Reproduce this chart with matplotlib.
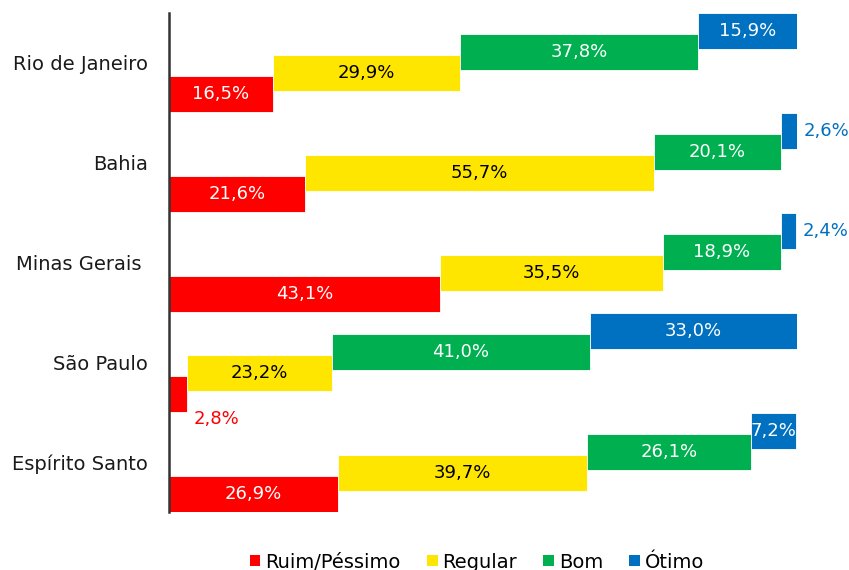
import matplotlib
matplotlib.use("Agg")
import matplotlib.pyplot as plt
from matplotlib.patches import Patch

# data
states = ["Rio de Janeiro", "Bahia", "Minas Gerais ", "São Paulo", "Espírito Santo"]
ruim = [16.5, 21.6, 43.1, 2.8, 26.9]
regular = [29.9, 55.7, 35.5, 23.2, 39.7]
bom = [37.8, 20.1, 18.9, 41.0, 26.1]
otimo = [15.9, 2.6, 2.4, 33.0, 7.2]
series_names = ["Ruim/Péssimo", "Regular", "Bom", "Ótimo"]
colors = ["#FF0000", "#FFE600", "#00B050", "#0070C0"]
text_colors = ["white", "black", "white", "white"]

plt.rcParams['font.family'] = ['DejaVu Sans']
fig = plt.figure(figsize=(8.49, 5.70), dpi=100)
ax = fig.add_axes([169/849, (570-512)/570, (797-169)/849, (512-13)/570])

offsets = [0.315, 0.105, -0.105, -0.315]
h = 0.36
all_series = [ruim, regular, bom, otimo]

for i, st in enumerate(states):
    left = 0
    for j, vals in enumerate(all_series):
        v = vals[i]
        y = i + offsets[j]
        ax.barh(y, v, left=left, height=h, color=colors[j], edgecolor="white", linewidth=0.6)
        lbl = f"{v:.1f}".replace(".", ",") + "%"
        if v < 5 and j == 0:
            ax.text(left + v + 1.2, y + 0.25, lbl, color=colors[j], fontsize=13, ha="left", va="center")
        elif v < 5:
            ax.text(left + v + 1.0, y, lbl, color=colors[j], fontsize=13, ha="left", va="center")
        else:
            ax.text(left + v / 2, y, lbl, color=text_colors[j], fontsize=13, ha="center", va="center")
        left += v

ax.set_xlim(0, 100)
ax.set_ylim(4.495, -0.495)
ax.set_yticks(range(len(states)))
ax.set_yticklabels(states, fontsize=14, color="#1a1a1a")
ax.tick_params(axis="y", length=0, pad=15)
ax.set_xticks([])
for s in ["top", "right", "bottom"]:
    ax.spines[s].set_visible(False)
ax.spines["left"].set_color("#333333")
ax.spines["left"].set_linewidth(1.8)

handles = [Patch(facecolor=c, label=n) for c, n in zip(colors, series_names)]
fig.legend(handles=handles, loc="center", bbox_to_anchor=(477/849, 1 - 562/570), ncol=4,
           frameon=False, fontsize=14, handlelength=0.55, handleheight=0.55,
           handletextpad=0.25, columnspacing=1.35, borderpad=0)

fig.savefig("out.png", dpi=100)
